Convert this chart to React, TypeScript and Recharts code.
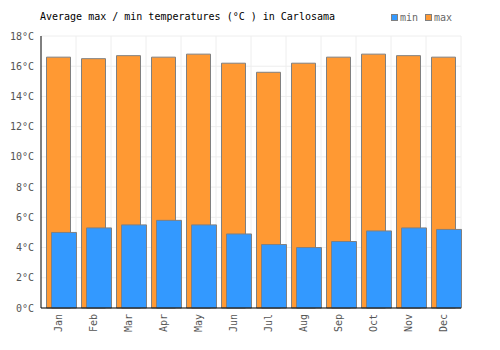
import { BarChart, Bar, XAxis, YAxis, CartesianGrid, Legend, Rectangle } from 'recharts'

const months = ['Jan', 'Feb', 'Mar', 'Apr', 'May', 'Jun', 'Jul', 'Aug', 'Sep', 'Oct', 'Nov', 'Dec']
const maxTemps = [16.6, 16.5, 16.7, 16.6, 16.8, 16.2, 15.6, 16.2, 16.6, 16.8, 16.7, 16.6]
const minTemps = [5.0, 5.3, 5.5, 5.8, 5.5, 4.9, 4.2, 4.0, 4.4, 5.1, 5.3, 5.2]
const yTicks = [0, 2, 4, 6, 8, 10, 12, 14, 16, 18]

const data = months.map((m, i) => ({ month: m, min: minTemps[i], max: maxTemps[i] }))

const FONT = '"DejaVu Sans Mono", monospace'
const MIN_COLOR = '#3399ff'
const MAX_COLOR = '#ff9933'
const EDGE = '#808080'

// bars in the original sit a little right of center in each month
const ShiftedBar = (props: any) => <Rectangle {...props} x={props.x + 2.5} />

const MonthTick = ({ x, y, payload }: any) => (
  <text
    x={x}
    y={y}
    transform={`rotate(-90 ${x} ${y})`}
    textAnchor="end"
    dy="0.35em"
    fontFamily={FONT}
    fontSize={10}
    fill="#555"
  >
    {payload.value}
  </text>
)

const LegendBox = () => (
  <div style={{ display: 'flex', alignItems: 'center', fontFamily: FONT, fontSize: 10, color: '#666' }}>
    {[
      ['min', MIN_COLOR],
      ['max', MAX_COLOR]
    ].map(([name, color]) => (
      <span key={name} style={{ display: 'flex', alignItems: 'center', marginRight: 7 }}>
        <span
          style={{
            width: 5,
            height: 5,
            background: color,
            border: `1px solid ${EDGE}`,
            marginRight: 2,
            display: 'inline-block'
          }}
        />
        {name}
      </span>
    ))}
  </div>
)

export default function App() {
  return (
    <div style={{ position: 'absolute', left: 0, top: 0, width: 500, height: 350, background: '#fff' }}>
      <div
        style={{
          position: 'absolute',
          left: 40,
          top: 12,
          fontFamily: FONT,
          fontSize: 10,
          lineHeight: '10px',
          color: '#000',
          whiteSpace: 'pre'
        }}
      >
        Average max / min temperatures (°C ) in Carlosama
      </div>
      <BarChart
        width={500}
        height={350}
        data={data}
        margin={{ top: 36, right: 39, left: 0, bottom: 0 }}
        barGap={-19}
      >
        <CartesianGrid
          stroke="#eeeeee"
          verticalCoordinatesGenerator={({ offset }: any) =>
            months.map((_, i) => offset.left + ((i + 1) * offset.width) / months.length)
          }
        />
        <XAxis
          dataKey="month"
          height={42}
          tickLine={false}
          tickMargin={0}
          tick={<MonthTick />}
          interval={0}
          axisLine={{ stroke: '#000' }}
        />
        <YAxis
          width={41}
          domain={[0, 18]}
          ticks={yTicks}
          tickFormatter={(v: number) => `${v}°C`}
          tickLine={false}
          tickMargin={1}
          axisLine={{ stroke: '#000' }}
          tick={{ fontFamily: FONT, fontSize: 10, fill: '#555' }}
        />
        <Legend
          verticalAlign="middle"
          align="center"
          layout="horizontal"
          wrapperStyle={{ top: 12, left: 391, width: 'auto', height: 'auto' }}
          content={<LegendBox />}
        />
        <Bar
          dataKey="max"
          fill={MAX_COLOR}
          stroke={EDGE}
          barSize={24}
          shape={ShiftedBar}
          isAnimationActive={false}
        />
        <Bar
          dataKey="min"
          fill={MIN_COLOR}
          stroke={EDGE}
          barSize={25}
          shape={ShiftedBar}
          isAnimationActive={false}
        />
      </BarChart>
    </div>
  )
}
